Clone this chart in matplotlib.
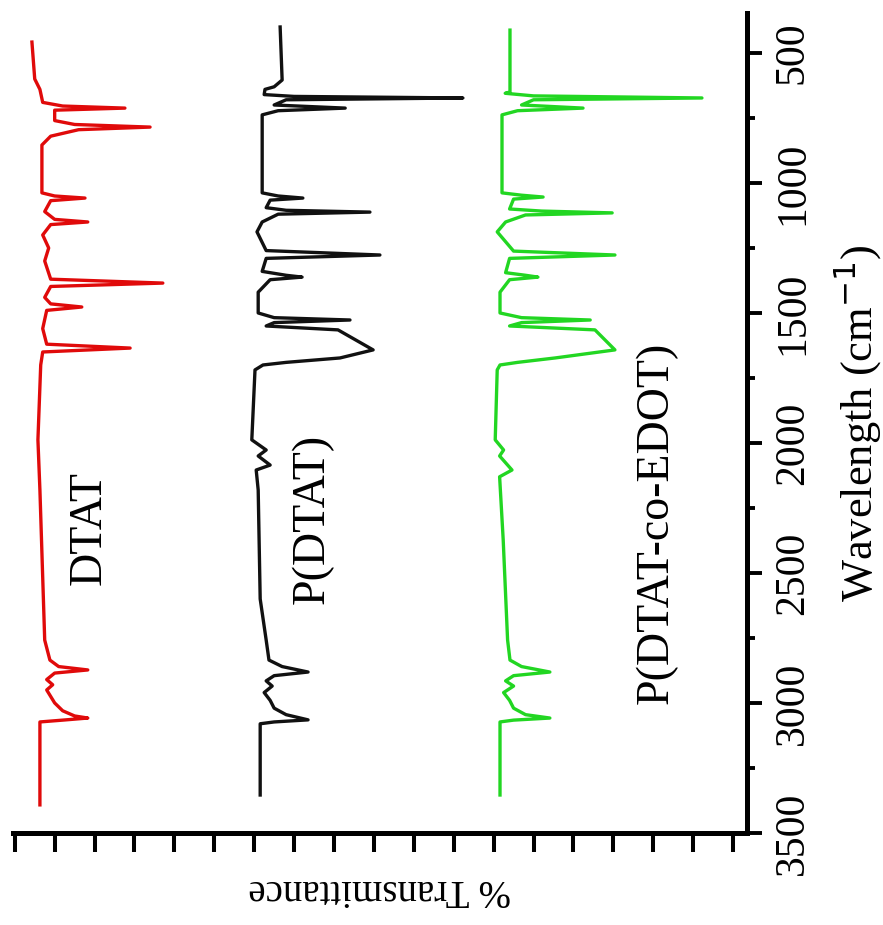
import matplotlib.pyplot as plt
from matplotlib.ticker import MultipleLocator, NullFormatter

plt.rcParams['font.family'] = ['Liberation Serif', 'DejaVu Serif']

# FTIR spectra, wavenumber (cm-1) vs. % transmittance (stacked with offsets)
dtat_wn = [458, 600, 640, 690, 704, 712, 720, 760, 775, 785, 795, 820, 854,
           1038, 1050, 1058, 1068, 1110, 1140, 1150, 1160, 1200, 1250, 1300,
           1370, 1385, 1398, 1440, 1465, 1477, 1490, 1560, 1620, 1635, 1650,
           1700, 1988, 2181, 2758, 2835, 2860, 2873, 2885, 2910, 2930, 2950,
           2975, 3000, 3030, 3050, 3058, 3066, 3073, 3392]
dtat_t = [175.7, 175.0, 173.7, 173.0, 168, 152.4, 170, 170, 165, 146.1, 164,
          171, 173.2, 173.2, 170, 162.4, 171, 172.5, 170, 161.7, 171, 173,
          171.5, 172.5, 171, 142.9, 171, 172.5, 171, 163.2, 172, 173, 172,
          151.1, 173, 173.5, 174.2, 173.7, 172.5, 171.2, 169, 161.7, 170, 172,
          170.5, 172, 171, 170, 168, 165, 161.7, 168, 173.7, 173.7]

pdtat_wn = [400, 604, 630, 640, 660, 667, 673, 680, 700, 712, 722, 738, 1038,
            1050, 1058, 1066, 1095, 1105, 1112, 1120, 1150, 1188, 1260, 1277,
            1290, 1340, 1355, 1362, 1372, 1420, 1500, 1518, 1527, 1537, 1550,
            1565, 1642, 1673, 1690, 1700, 1719, 1988, 2027, 2050, 2085, 2104,
            2181, 2600, 2758, 2835, 2860, 2881, 2895, 2915, 2935, 2960, 2990,
            3020, 3045, 3065, 3073, 3080, 3354]
pdtat_t = [113.5, 113, 115, 117.3, 117.5, 110, 67.7, 112, 115, 97.2, 114, 118,
           118, 114, 107.8, 116, 117, 112, 91, 114, 118, 119.3, 117, 88.5, 117,
           118, 112, 108, 116, 119, 119, 115, 96, 115, 117, 99, 90.2, 98.5, 112,
           117.8, 119.8, 120.6, 117, 119, 116, 119.5, 119, 118.5, 117, 116.3,
           113, 106.5, 115, 117, 115.5, 117.5, 116, 115, 112, 106.5, 115, 118.5,
           118.5]

copoly_wn = [412, 650, 655, 665, 673, 680, 700, 712, 722, 738, 1038, 1047,
             1054, 1062, 1100, 1108, 1115, 1123, 1150, 1188, 1262, 1277, 1290,
             1345, 1355, 1362, 1372, 1420, 1500, 1518, 1527, 1537, 1550, 1565,
             1642, 1673, 1690, 1700, 1719, 1988, 2027, 2050, 2104, 2130, 2373,
             2758, 2835, 2860, 2881, 2895, 2915, 2935, 2960, 2990, 3020, 3045,
             3058, 3066, 3073, 3354]
copoly_t = [55.9, 55.9, 57.1, 50, 7.8, 50, 53, 37.6, 54, 57.9, 57.9, 53, 47.6,
            55, 56, 48, 30.3, 52, 57, 59.1, 55, 29.6, 56, 57, 52, 48.9, 56,
            58.4, 58.4, 53, 35.8, 53, 56, 34.6, 29.6, 44.6, 54, 58.4, 59.1,
            59.6, 57.5, 58.5, 55.4, 58.5, 57.6, 56.5, 55.9, 53, 45.9, 55, 57,
            55, 57.5, 56, 55, 52, 45.9, 55, 58.4, 58.4]

wn_ticks = [500, 1000, 1500, 2000, 2500, 3000, 3500]


def main():
    fig = plt.figure(figsize=(8.83, 9.25), dpi=100)
    ax = fig.add_axes([0.0147, 0.0995, 0.8313, 0.8865])

    ax.plot(dtat_t, dtat_wn, color='#e00a0a', linewidth=2.4)
    ax.plot(pdtat_t, pdtat_wn, color='#111111', linewidth=2.4)
    ax.plot(copoly_t, copoly_wn, color='#22d622', linewidth=2.4)

    # chart is shown rotated: wavenumber runs down the right side
    ax.set_xlim(180.45, -3.5)
    ax.set_ylim(3500, 346)

    for side in ('left', 'top'):
        ax.spines[side].set_visible(False)
    for side in ('right', 'bottom'):
        ax.spines[side].set_linewidth(3.6)

    ax.yaxis.tick_right()
    ax.yaxis.set_label_position('right')
    ax.set_yticks(wn_ticks)
    ax.yaxis.set_minor_locator(MultipleLocator(250))
    ax.tick_params(axis='y', which='major', direction='out', length=11,
                   width=2.8, labelsize=30, labelrotation=90, pad=8)
    ax.tick_params(axis='y', which='minor', direction='out', length=6,
                   width=2.8)
    for lab in ax.get_yticklabels():
        lab.set_va('center')

    ax.xaxis.set_major_locator(MultipleLocator(10))
    ax.xaxis.set_major_formatter(NullFormatter())
    ax.tick_params(axis='x', direction='out', length=14, width=2.9)

    ax.set_ylabel('Wavelength (cm$^{-1}$)', fontsize=32, rotation=90,
                  labelpad=14)
    ax.set_xlabel('% Transmittance', fontsize=28, rotation=180, labelpad=10)

    ax.text(161.4, 2327, 'DTAT', rotation=90, fontsize=33,
            ha='center', va='center')
    ax.text(105.5, 2292, 'P(DTAT)', rotation=90, fontsize=33,
            ha='center', va='center')
    ax.text(19.3, 2308, 'P(DTAT-co-EDOT)', rotation=90, fontsize=33,
            ha='center', va='center')

    fig.savefig('out.png', dpi=100)
    plt.close(fig)


if __name__ == "__main__":
    main()
